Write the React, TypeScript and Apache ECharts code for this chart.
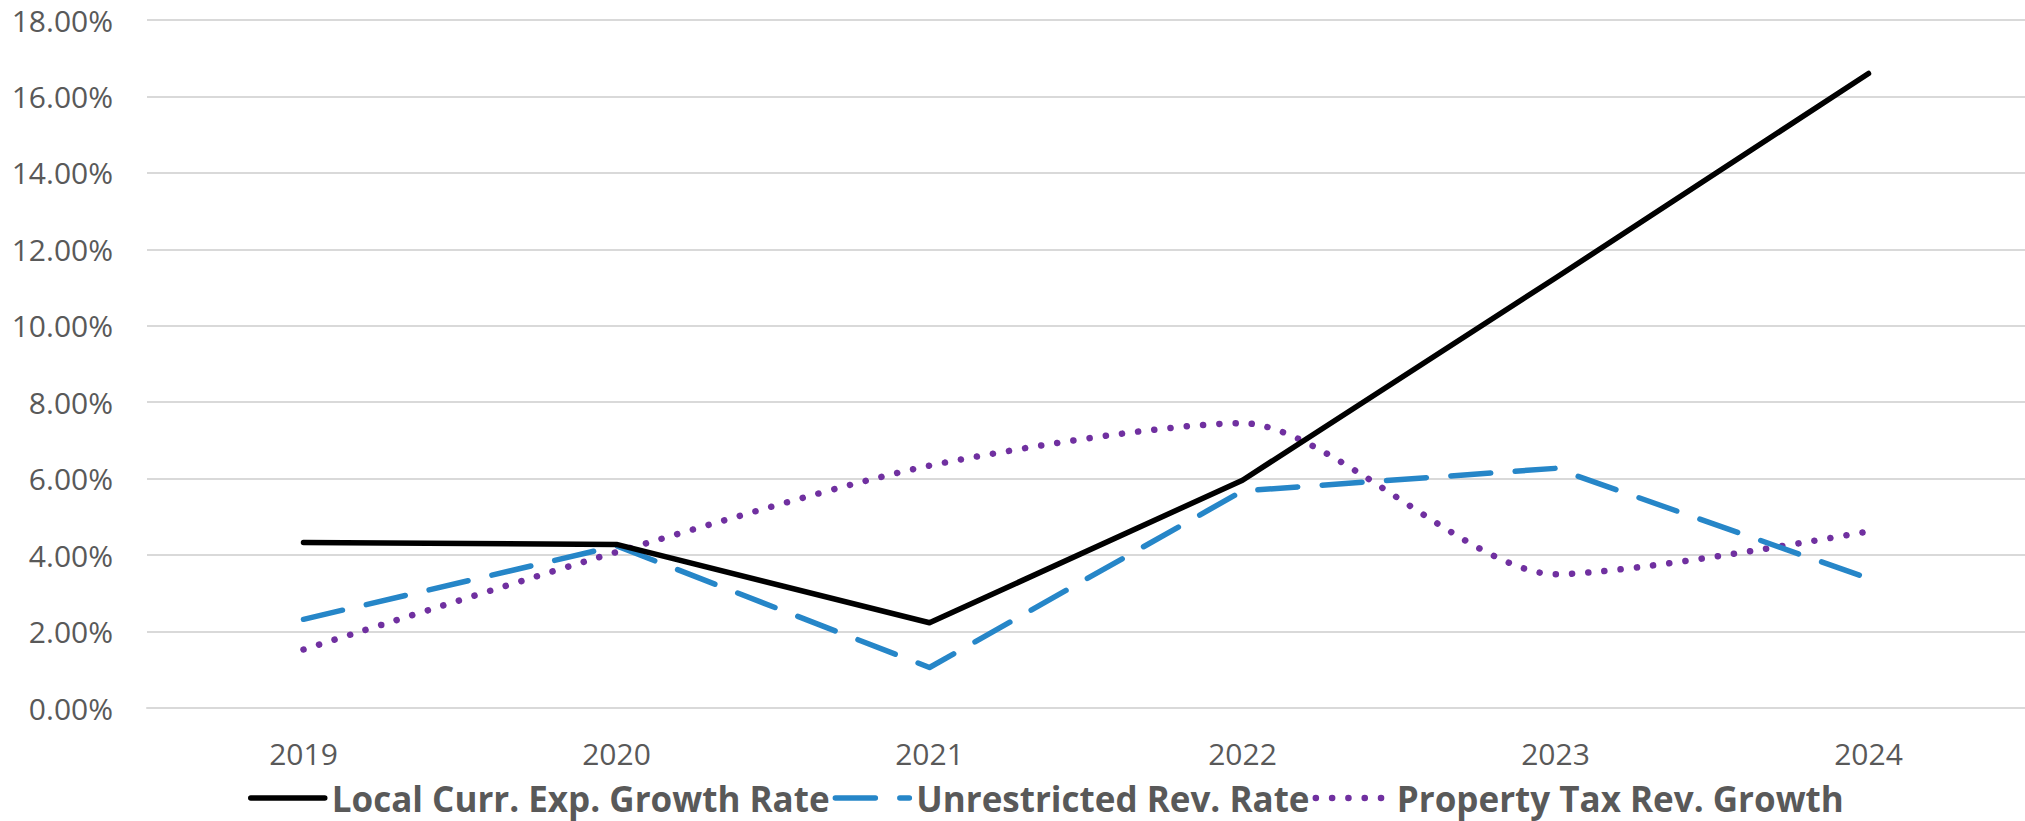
import React, { useEffect, useRef } from "react";
import * as echarts from "echarts";

const years = ["2019", "2020", "2021", "2022", "2023", "2024"];
const localCurrExp = [4.33, 4.28, 2.23, 5.96, 11.25, 16.6];
const unrestrictedRev = [2.32, 4.24, 1.06, 5.68, 6.27, 3.39];
const propertyTaxRev = [1.53, 4.08, 6.34, 7.45, 3.5, 4.62];

const seriesNames = [
  "Local Curr. Exp. Growth Rate",
  "Unrestricted Rev. Rate",
  "Property Tax Rev. Growth",
];

export default function App() {
  const ref = useRef<HTMLDivElement>(null);
  useEffect(() => {
    if (!ref.current) return;
    const chart = echarts.init(ref.current, undefined, { renderer: "svg" });
    const font = "'Open Sans', 'Noto Sans', sans-serif";
    chart.setOption({
      animation: false,
      backgroundColor: "#ffffff",
      grid: { left: 147, right: 0, top: 20, bottom: 113, containLabel: false },
      xAxis: {
        type: "category",
        data: years,
        boundaryGap: true,
        axisLine: { show: true, lineStyle: { color: "#d9d9d9", width: 2 } },
        axisTick: { show: false },
        axisLabel: { color: "#595959", fontSize: 30, fontFamily: font, margin: 30 },
        splitLine: { show: false },
      },
      yAxis: {
        type: "value",
        min: 0,
        max: 18,
        interval: 2,
        axisLine: { show: false },
        axisTick: { show: false },
        axisLabel: {
          color: "#595959",
          fontSize: 30,
          fontFamily: font,
          margin: 34,
          formatter: (v: number) => `${v.toFixed(2)}%`,
        },
        splitLine: { show: true, lineStyle: { color: "#d9d9d9", width: 2 } },
      },
      legend: {
        data: [
          { name: seriesNames[0], lineStyle: { width: 5.5 } },
          { name: seriesNames[1], lineStyle: { width: 5.5 } },
          { name: seriesNames[2], lineStyle: { width: 6.5 } },
        ],
        left: 248,
        top: 776,
        padding: 0,
        itemWidth: 74,
        itemHeight: 20,
        itemGap: 3,
        itemStyle: { opacity: 0 },
        textStyle: {
          color: "#595959",
          fontSize: 35,
          lineHeight: 44,
          fontWeight: "bold",
          fontFamily: font,
          padding: [0, 0, 0, 2],
        },
      },
      series: [
        {
          name: seriesNames[0],
          type: "line",
          data: localCurrExp,
          symbol: "none",
          smooth: false,
          color: "#000000",
          lineStyle: { color: "#000000", width: 5.5, cap: "round", join: "round" },
          z: 3,
        },
        {
          name: seriesNames[1],
          type: "line",
          data: unrestrictedRev,
          symbol: "none",
          smooth: false,
          color: "#2686c8",
          lineStyle: {
            color: "#2686c8",
            width: 5.5,
            type: [40, 24.5],
            cap: "round",
            join: "round",
          },
          z: 2,
        },
        {
          name: seriesNames[2],
          type: "line",
          data: propertyTaxRev,
          symbol: "none",
          smooth: 0.25,
          color: "#7030a0",
          lineStyle: {
            color: "#7030a0",
            width: 6.5,
            type: [0.1, 16.2],
            cap: "round",
            join: "round",
          },
          z: 1,
        },
      ],
    });
    return () => chart.dispose();
  }, []);
  return (
    <div
      ref={ref}
      style={{ position: "fixed", left: 0, top: 0, width: 2025, height: 821 }}
    />
  );
}
